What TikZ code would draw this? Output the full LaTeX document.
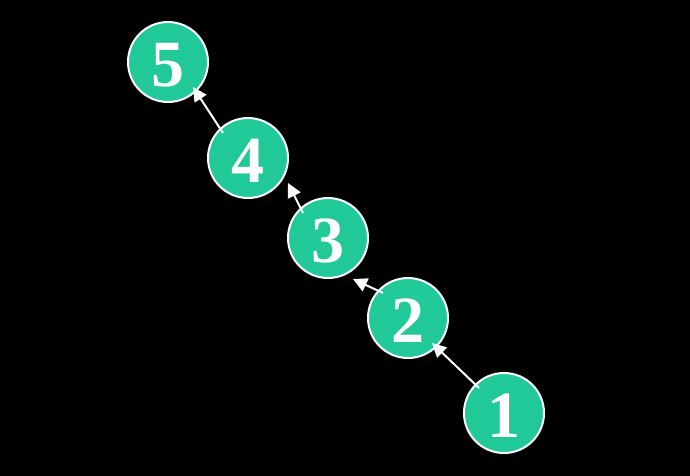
\documentclass[tikz,border=0pt]{standalone}
\usepackage{fontspec}
\setmainfont{Liberation Serif}
\usetikzlibrary{arrows.meta,calc}
\definecolor{treeteal}{RGB}{32,201,151}

\begin{document}
\begin{tikzpicture}[x=1pt,y=-1pt,>={Triangle[length=14pt,width=14pt]},
    treenode/.style={circle,fill=treeteal,draw=white,line width=2pt,
        minimum size=80pt,inner sep=0pt,text=white,
        text height=49.5pt,text depth=0pt,
        font=\fontsize{66}{66}\selectfont\bfseries}]
    % Background
    \fill[black] (0,0) rectangle (690,476);
    \useasboundingbox (0,0) rectangle (690,476);

    % Nodes
    \node[treenode] (n5) at (168,62) {5};
    \node[treenode] (n4) at (248,158) {4};
    \node[treenode] (n3) at (328,238) {3};
    \node[treenode] (n2) at (408,318) {2};
    \node[treenode] (n1) at (504,413) {1};

    % Links to parent
    \foreach \a/\b/\dx/\dy in {n1/n2/24/25,n2/n3/25/41,n3/n4/40/25,n4/n5/25/25}
        \draw[->,white,line width=2pt] ($(\a)+(-25,-25)$) -- ($(\b)+(\dx,\dy)$);
\end{tikzpicture}
\end{document}
